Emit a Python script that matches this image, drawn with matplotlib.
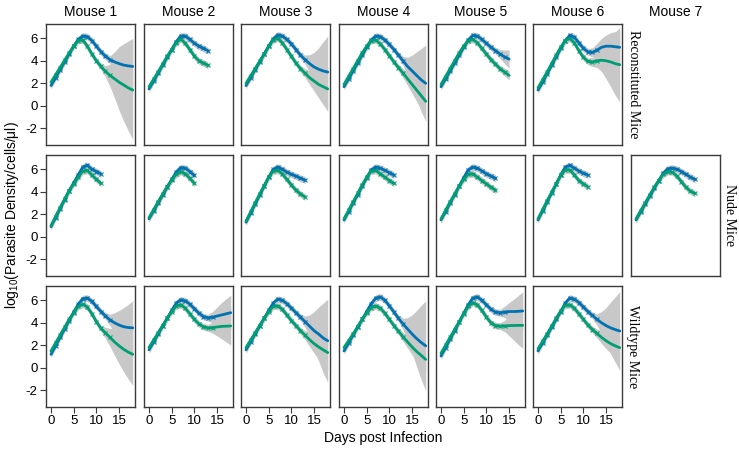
import matplotlib
matplotlib.use('Agg')
import matplotlib.pyplot as plt
import numpy as np

plt.rcParams['font.family'] = ['Liberation Sans', 'DejaVu Sans']
plt.rcParams['mathtext.default'] = 'regular'

BLUE = '#0072B2'
GREEN = '#009E73'
BAND = '#c8c8c8'

col_titles = ['Mouse 1', 'Mouse 2', 'Mouse 3', 'Mouse 4', 'Mouse 5', 'Mouse 6', 'Mouse 7']
row_labels = ['Reconstituted Mice', 'Nude Mice', 'Wildtype Mice']
x_ticks = [0, 5, 10, 15]
y_ticks = [-2, 0, 2, 4, 6]

# ---------------- Reconstituted mice (values per day, day 0 ..) ----------------
R1_blue = [1.8, 2.5, 3.2, 3.9, 4.6, 5.3, 5.9, 6.2, 6.15, 5.8, 5.3, 4.8, 4.4, 4.1, 3.9, 3.75, 3.62, 3.55, 3.5]
R1_green = [2.1, 2.75, 3.4, 4.05, 4.7, 5.3, 5.8, 5.85, 5.3, 4.6, 4.0, 3.5, 3.05, 2.7, 2.4, 2.1, 1.85, 1.6, 1.4]
R1_wb = [.3] * 13 + [.35, .9, 1.5, 1.9, 2.2, 2.5]
R1_wg = [.3] * 12 + [.5, 1.0, 1.7, 2.5, 3.2, 3.8, 4.4]
R1_obs = 13

R2_blue = [1.5, 2.2, 2.9, 3.6, 4.3, 5.0, 5.7, 6.2, 6.2, 5.9, 5.55, 5.3, 5.1, 4.9]
R2_green = [1.7, 2.35, 3.0, 3.7, 4.4, 5.0, 5.6, 5.95, 5.55, 5.0, 4.4, 4.0, 3.8, 3.6]
R2_wb = [.3] * 14
R2_wg = [.3] * 14
R2_obs = 13

R3_blue = [1.8, 2.5, 3.2, 3.9, 4.6, 5.3, 5.95, 6.3, 6.2, 5.9, 5.5, 5.0, 4.5, 4.1, 3.75, 3.45, 3.25, 3.1, 3.0]
R3_green = [2.0, 2.65, 3.3, 3.95, 4.6, 5.3, 5.85, 6.0, 5.6, 5.0, 4.4, 3.8, 3.3, 2.9, 2.5, 2.2, 1.9, 1.7, 1.5]
R3_wb = [.3] * 13 + [.4, .8, 1.3, 1.9, 2.6, 3.2]
R3_wg = [.3] * 13 + [.4, .6, .9, 1.2, 1.6, 2.0]
R3_obs = 13

R4_blue = [1.7, 2.4, 3.1, 3.8, 4.5, 5.2, 5.85, 6.2, 6.15, 5.85, 5.45, 5.0, 4.5, 4.0, 3.5, 3.1, 2.7, 2.3, 2.0]
R4_green = [1.9, 2.6, 3.3, 4.0, 4.7, 5.3, 5.8, 5.85, 5.5, 5.0, 4.45, 3.9, 3.4, 2.9, 2.4, 1.9, 1.4, 0.9, 0.4]
R4_wb = [.3] * 13 + [.4, .8, 1.4, 2.1, 2.8, 3.4]
R4_wg = [.3] * 13 + [.4, .6, .8, 1.0, 1.25, 1.5]
R4_obs = 13

R5_blue = [1.7, 2.4, 3.1, 3.8, 4.5, 5.2, 5.85, 6.25, 6.2, 5.9, 5.55, 5.2, 4.9, 4.6, 4.35, 4.15]
R5_green = [1.9, 2.6, 3.3, 4.0, 4.7, 5.3, 5.8, 5.9, 5.6, 5.1, 4.6, 4.1, 3.7, 3.3, 3.0, 2.7]
R5_wb = [.3] * 13 + [.4, .6, .8]
R5_wg = [.3] * 14 + [.35, .4]
R5_obs = 14

R6_blue = [1.4, 2.1, 2.85, 3.6, 4.35, 5.1, 5.8, 6.25, 6.1, 5.6, 5.1, 4.8, 4.75, 4.95, 5.2, 5.3, 5.3, 5.25, 5.2]
R6_green = [1.6, 2.3, 3.0, 3.75, 4.5, 5.2, 5.8, 6.0, 5.6, 4.9, 4.3, 3.95, 3.9, 4.0, 4.05, 4.0, 3.9, 3.75, 3.65]
R6_wb = [.3] * 12 + [.4, .6, .8, 1.0, 1.2, 1.35, 1.5]
R6_wg = [.3] * 12 + [.4, .6, 1.0, 1.6, 2.2, 2.8, 3.3]
R6_obs = 13

# ---------------- Nude mice ----------------
N1_blue = [0.9, 1.7, 2.5, 3.3, 4.1, 4.8, 5.5, 6.2, 6.35, 6.0, 5.8, 5.6]
N1_green = [1.0, 1.8, 2.6, 3.35, 4.1, 4.7, 5.3, 5.85, 5.9, 5.5, 5.1, 4.75]
N2_blue = [1.6, 2.3, 3.0, 3.7, 4.4, 5.1, 5.75, 6.15, 6.1, 5.8, 5.45]
N2_green = [1.7, 2.4, 3.1, 3.8, 4.45, 5.05, 5.55, 5.8, 5.6, 5.2, 4.75]
N3_blue = [1.3, 2.1, 2.9, 3.7, 4.5, 5.3, 6.0, 6.2, 6.0, 5.75, 5.55, 5.4, 5.2, 5.05]
N3_green = [1.4, 2.2, 3.0, 3.8, 4.55, 5.3, 5.85, 5.9, 5.6, 5.1, 4.6, 4.15, 3.8, 3.55]
N4_blue = [1.5, 2.25, 3.0, 3.75, 4.5, 5.25, 5.95, 6.2, 6.1, 5.9, 5.7, 5.5]
N4_green = [1.6, 2.35, 3.1, 3.85, 4.6, 5.3, 5.85, 5.9, 5.6, 5.3, 5.0, 4.75]
N5_blue = [1.5, 2.25, 3.0, 3.75, 4.5, 5.25, 5.95, 6.2, 6.1, 5.85, 5.6, 5.4, 5.2]
N5_green = [1.6, 2.35, 3.1, 3.8, 4.5, 5.1, 5.55, 5.6, 5.3, 5.0, 4.7, 4.4, 4.15]
N6_blue = [1.5, 2.3, 3.1, 3.9, 4.7, 5.5, 6.2, 6.35, 6.1, 5.85, 5.65, 5.5]
N6_green = [1.6, 2.4, 3.2, 3.95, 4.7, 5.45, 5.95, 5.95, 5.5, 5.0, 4.7, 4.45]
N7_blue = [1.5, 2.2, 2.9, 3.6, 4.3, 5.0, 5.65, 6.05, 6.1, 6.0, 5.8, 5.55, 5.3, 5.1]
N7_green = [1.6, 2.3, 3.0, 3.7, 4.4, 5.0, 5.55, 5.8, 5.75, 5.4, 4.9, 4.4, 4.05, 3.85]
N_w = 0.3

# ---------------- Wildtype mice ----------------
W1_blue = [1.2, 1.95, 2.7, 3.45, 4.2, 4.95, 5.65, 6.15, 6.2, 5.9, 5.45, 5.0, 4.6, 4.25, 4.0, 3.8, 3.65, 3.58, 3.55]
W1_green = [1.5, 2.2, 2.9, 3.6, 4.3, 4.9, 5.45, 5.65, 5.4, 4.8, 4.1, 3.5, 3.1, 2.7, 2.3, 1.95, 1.65, 1.4, 1.2]
W1_wb = [.3] * 13 + [.5, .9, 1.3, 1.7, 2.05, 2.4]
W1_wg = [.3] * 12 + [.5, .8, 1.2, 1.6, 2.0, 2.4, 2.75]
W1_obs = 13

W2_blue = [1.6, 2.3, 3.0, 3.7, 4.4, 5.1, 5.75, 6.05, 5.95, 5.65, 5.25, 4.85, 4.55, 4.45, 4.5, 4.6, 4.7, 4.8, 4.9]
W2_green = [1.8, 2.45, 3.1, 3.75, 4.4, 5.0, 5.5, 5.6, 5.3, 4.8, 4.3, 3.9, 3.65, 3.55, 3.58, 3.63, 3.68, 3.7, 3.72]
W2_wb = [.3] * 14 + [.5, .8, 1.1, 1.35, 1.55]
W2_wg = [.3] * 14 + [.5, .8, 1.1, 1.4, 1.7]
W2_obs = 14

W3_blue = [1.6, 2.3, 3.0, 3.7, 4.4, 5.1, 5.75, 6.1, 6.0, 5.7, 5.3, 4.9, 4.5, 4.1, 3.7, 3.3, 3.0, 2.65, 2.4]
W3_green = [1.8, 2.45, 3.1, 3.75, 4.4, 5.0, 5.45, 5.5, 5.2, 4.7, 4.2, 3.75, 3.3, 2.9, 2.5, 2.15, 1.85, 1.6, 1.35]
W3_wb = [.3] * 13 + [.5, 1.0, 1.7, 2.4, 3.1, 3.7]
W3_wg = [.3] * 13 + [.4, .6, .85, 1.1, 1.3, 1.55]
W3_obs = 13

W4_blue = [1.5, 2.2, 2.9, 3.6, 4.3, 5.0, 5.7, 6.2, 6.3, 6.0, 5.5, 4.95, 4.4, 3.9, 3.45, 3.0, 2.6, 2.25, 1.95]
W4_green = [1.8, 2.4, 3.0, 3.65, 4.3, 4.9, 5.35, 5.5, 5.3, 4.85, 4.3, 3.75, 3.25, 2.75, 2.3, 1.85, 1.45, 1.1, 0.75]
W4_wb = [.3] * 13 + [.5, 1.0, 1.7, 2.5, 3.3, 4.0]
W4_wg = [.3] * 13 + [.4, .55, .7, .85, 1.0, 1.15]
W4_obs = 13

W5_blue = [1.05, 1.8, 2.55, 3.3, 4.05, 4.85, 5.6, 6.2, 6.3, 6.0, 5.6, 5.2, 4.95, 4.9, 4.95, 5.0, 5.0, 5.02, 5.05]
W5_green = [1.3, 2.0, 2.7, 3.4, 4.1, 4.8, 5.45, 5.8, 5.6, 5.1, 4.5, 4.0, 3.75, 3.7, 3.72, 3.75, 3.76, 3.77, 3.77]
W5_wb = [.3] * 14 + [.5, .8, 1.1, 1.4, 1.7]
W5_wg = [.3] * 14 + [.5, .9, 1.3, 1.7, 2.05]
W5_obs = 14

W6_blue = [1.5, 2.2, 2.9, 3.6, 4.3, 5.0, 5.75, 6.2, 6.1, 5.8, 5.4, 5.0, 4.65, 4.3, 4.0, 3.75, 3.55, 3.4, 3.27]
W6_green = [1.7, 2.35, 3.0, 3.7, 4.4, 5.05, 5.55, 5.6, 5.3, 4.8, 4.3, 3.8, 3.4, 3.05, 2.7, 2.4, 2.15, 1.95, 1.79]
W6_wb = [.3] * 13 + [.5, 1.0, 1.6, 2.3, 2.9, 3.5]
W6_wg = [.3] * 13 + [.4, .55, .7, .85, 1.0, 1.1]
W6_obs = 13

panels = {
    (0, 0): (R1_blue, R1_green, R1_wb, R1_wg, R1_obs),
    (0, 1): (R2_blue, R2_green, R2_wb, R2_wg, R2_obs),
    (0, 2): (R3_blue, R3_green, R3_wb, R3_wg, R3_obs),
    (0, 3): (R4_blue, R4_green, R4_wb, R4_wg, R4_obs),
    (0, 4): (R5_blue, R5_green, R5_wb, R5_wg, R5_obs),
    (0, 5): (R6_blue, R6_green, R6_wb, R6_wg, R6_obs),
    (1, 0): (N1_blue, N1_green, [N_w] * len(N1_blue), [N_w] * len(N1_green), len(N1_blue) - 1),
    (1, 1): (N2_blue, N2_green, [N_w] * len(N2_blue), [N_w] * len(N2_green), len(N2_blue) - 1),
    (1, 2): (N3_blue, N3_green, [N_w] * len(N3_blue), [N_w] * len(N3_green), len(N3_blue) - 1),
    (1, 3): (N4_blue, N4_green, [N_w] * len(N4_blue), [N_w] * len(N4_green), len(N4_blue) - 1),
    (1, 4): (N5_blue, N5_green, [N_w] * len(N5_blue), [N_w] * len(N5_green), len(N5_blue) - 1),
    (1, 5): (N6_blue, N6_green, [N_w] * len(N6_blue), [N_w] * len(N6_green), len(N6_blue) - 1),
    (1, 6): (N7_blue, N7_green, [N_w] * len(N7_blue), [N_w] * len(N7_green), len(N7_blue) - 1),
    (2, 0): (W1_blue, W1_green, W1_wb, W1_wg, W1_obs),
    (2, 1): (W2_blue, W2_green, W2_wb, W2_wg, W2_obs),
    (2, 2): (W3_blue, W3_green, W3_wb, W3_wg, W3_obs),
    (2, 3): (W4_blue, W4_green, W4_wb, W4_wg, W4_obs),
    (2, 4): (W5_blue, W5_green, W5_wb, W5_wg, W5_obs),
    (2, 5): (W6_blue, W6_green, W6_wb, W6_wg, W6_obs),
}

W, H = 739, 450
fig = plt.figure(figsize=(W / 100, H / 100), dpi=100)

col_left = [46, 144, 241, 339, 436, 533, 631]
row_top = [24, 155, 286]
pw, ph = 89, 121
FRAME = '#3a3a3a'

for (r, c), (blue, green, wb, wg, nobs) in panels.items():
    ax = fig.add_axes([col_left[c] / W, 1 - (row_top[r] + ph) / H, pw / W, ph / H])
    for vals, w, col in ((blue, wb, BLUE), (green, wg, GREEN)):
        v = np.array(vals, float)
        w = np.array(w, float)
        d = np.arange(len(v))
        ax.fill_between(d, v - w, v + w, color=BAND, lw=0, zorder=1)
    for vals, col in ((blue, BLUE), (green, GREEN)):
        v = np.array(vals, float)
        d = np.arange(len(v))
        ax.plot(d[1:nobs + 1], v[1:nobs + 1], ls='none', marker='x', ms=3.5,
                mew=0.9, color=col, alpha=0.85, zorder=2)
        ax.plot(d, v, color=col, lw=2.0, zorder=3, solid_capstyle='round')
    ax.set_xlim(-1.1, 18.5)
    ax.set_ylim(-3.48, 7.27)
    for s in ax.spines.values():
        s.set_color(FRAME)
        s.set_linewidth(1.0)
    ax.tick_params(direction='out', length=4, width=0.8, color=FRAME,
                   labelsize=9.5, pad=2)
    if c == 0:
        ax.set_yticks(y_ticks)
        ax.set_yticklabels([str(t) for t in y_ticks])
    else:
        ax.set_yticks([])
    if r == 2:
        ax.set_xticks(x_ticks)
        ax.set_xticklabels([str(t) for t in x_ticks])
    else:
        ax.set_xticks([])

# column titles
for c, t in enumerate(col_titles):
    fig.text((col_left[c] + pw / 2) / W, 1 - 12 / H, t, ha='center', va='center', fontsize=10)

# row labels (right of last panel in each row)
row_label_x = [633, 730, 633]
for r, t in enumerate(row_labels):
    fig.text(row_label_x[r] / W, 1 - (row_top[r] + ph / 2) / H, t, rotation=-90,
             ha='center', va='center', fontsize=10,
             family=['Liberation Serif', 'DejaVu Serif'])

fig.text(383 / W, 1 - 438 / H, 'Days post Infection', ha='center', va='center', fontsize=10)
fig.text(12 / W, 1 - 215 / H, 'log$_{10}$(Parasite Density/cells/\u03bcl)', rotation=90,
         ha='center', va='center', fontsize=10)

fig.savefig('out.png', dpi=100)
